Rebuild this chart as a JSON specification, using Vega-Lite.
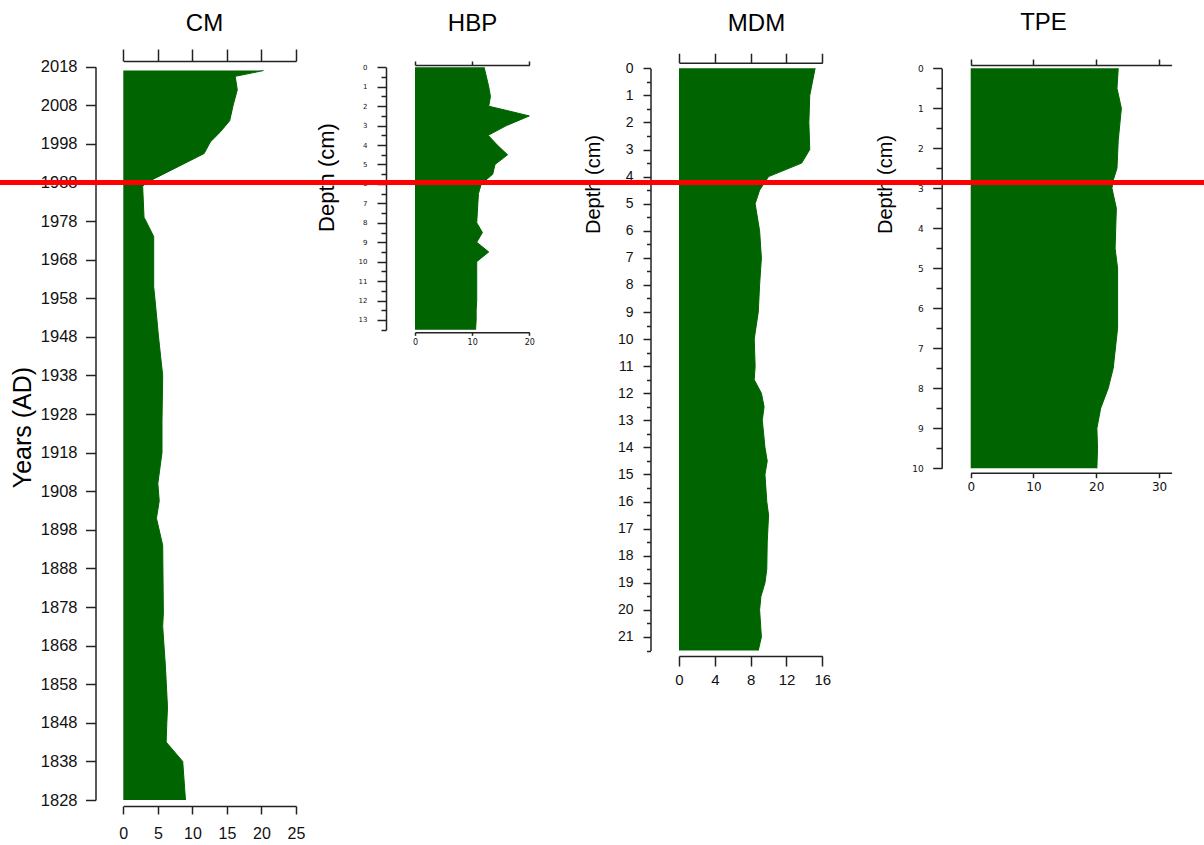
{
  "$schema": "https://vega.github.io/schema/vega-lite/v6.json",
  "width": 1204,
  "height": 845,
  "autosize": {"type": "none"},
  "padding": 0,
  "background": "white",
  "config": {
    "view": {"stroke": null},
    "axis": {
      "grid": false,
      "domainColor": "#222222",
      "domainWidth": 1.5,
      "tickColor": "#222222",
      "tickWidth": 1.5,
      "labelColor": "#111111",
      "labelFont": "Liberation Sans",
      "labelFlush": false,
      "labelOverlap": false,
      "labelBound": false,
      "titleColor": "#000000",
      "titleFont": "Liberation Sans",
      "titleFontWeight": "normal"
    }
  },
  "datasets": {
    "cm": [
      {"year": 2017, "value": 20.3},
      {"year": 2015.5, "value": 16.2},
      {"year": 2012, "value": 16.5},
      {"year": 2008, "value": 15.9},
      {"year": 2004, "value": 15.4},
      {"year": 2001, "value": 14.0},
      {"year": 1998.5, "value": 12.6},
      {"year": 1995.5, "value": 11.7},
      {"year": 1988, "value": 3.4},
      {"year": 1987, "value": 2.8},
      {"year": 1979, "value": 3.0},
      {"year": 1976.5, "value": 3.7},
      {"year": 1974, "value": 4.4},
      {"year": 1961, "value": 4.4},
      {"year": 1957.5, "value": 4.6},
      {"year": 1948, "value": 5.1},
      {"year": 1938, "value": 5.7},
      {"year": 1926, "value": 5.6},
      {"year": 1918, "value": 5.6},
      {"year": 1910, "value": 5.0},
      {"year": 1905.5, "value": 5.2},
      {"year": 1901, "value": 4.8},
      {"year": 1894, "value": 5.7},
      {"year": 1876.5, "value": 5.8},
      {"year": 1873, "value": 5.7},
      {"year": 1862.5, "value": 6.1},
      {"year": 1852, "value": 6.4},
      {"year": 1848, "value": 6.3},
      {"year": 1843, "value": 6.2},
      {"year": 1838, "value": 8.6},
      {"year": 1828, "value": 9.0}
    ],
    "hbp": [
      {"depth": 0, "value": 12.1},
      {"depth": 0.5, "value": 12.5},
      {"depth": 1.0, "value": 12.9},
      {"depth": 1.5, "value": 13.2},
      {"depth": 2.0, "value": 12.9},
      {"depth": 2.5, "value": 20.0},
      {"depth": 3.0, "value": 16.0},
      {"depth": 3.5, "value": 12.8},
      {"depth": 4.0, "value": 14.4},
      {"depth": 4.5, "value": 16.2},
      {"depth": 5.0, "value": 14.0},
      {"depth": 5.5, "value": 13.6},
      {"depth": 6.0, "value": 11.6},
      {"depth": 6.5, "value": 11.1},
      {"depth": 7.0, "value": 11.0},
      {"depth": 7.5, "value": 10.9},
      {"depth": 8.0, "value": 10.8},
      {"depth": 8.5, "value": 11.8},
      {"depth": 9.0, "value": 10.8},
      {"depth": 9.5, "value": 12.9},
      {"depth": 10.0, "value": 10.8},
      {"depth": 10.5, "value": 10.8},
      {"depth": 11.0, "value": 10.8},
      {"depth": 11.5, "value": 10.8},
      {"depth": 12.0, "value": 10.8},
      {"depth": 12.5, "value": 10.7},
      {"depth": 13.0, "value": 10.7},
      {"depth": 13.5, "value": 10.6}
    ],
    "mdm": [
      {"depth": 0, "value": 15.2},
      {"depth": 1.0, "value": 14.6},
      {"depth": 2.0, "value": 14.5},
      {"depth": 3.0, "value": 14.6},
      {"depth": 3.5, "value": 13.7},
      {"depth": 4.0, "value": 10.0},
      {"depth": 4.5, "value": 9.0},
      {"depth": 5.0, "value": 8.5},
      {"depth": 6.0, "value": 9.0},
      {"depth": 7.0, "value": 9.2},
      {"depth": 8.0, "value": 9.0},
      {"depth": 9.0, "value": 8.85},
      {"depth": 10.0, "value": 8.4},
      {"depth": 11.0, "value": 8.5},
      {"depth": 11.5, "value": 8.4},
      {"depth": 12.0, "value": 9.2},
      {"depth": 12.5, "value": 9.5},
      {"depth": 13.0, "value": 9.3},
      {"depth": 14.0, "value": 9.6},
      {"depth": 14.5, "value": 9.85},
      {"depth": 15.0, "value": 9.6},
      {"depth": 16.0, "value": 9.8},
      {"depth": 16.5, "value": 10.0},
      {"depth": 17.5, "value": 9.85},
      {"depth": 18.5, "value": 9.8},
      {"depth": 19.0, "value": 9.6},
      {"depth": 19.5, "value": 9.15},
      {"depth": 20.0, "value": 9.0},
      {"depth": 21.0, "value": 9.2},
      {"depth": 21.5, "value": 8.85}
    ],
    "tpe": [
      {"depth": 0, "value": 23.5},
      {"depth": 0.5, "value": 23.3},
      {"depth": 1.0, "value": 24.0},
      {"depth": 1.8, "value": 23.5},
      {"depth": 2.5, "value": 23.3},
      {"depth": 2.8, "value": 22.7},
      {"depth": 3.0, "value": 22.5},
      {"depth": 3.5, "value": 23.2},
      {"depth": 4.5, "value": 23.0},
      {"depth": 5.0, "value": 23.4},
      {"depth": 6.5, "value": 23.4},
      {"depth": 7.5, "value": 22.7},
      {"depth": 8.0, "value": 21.9},
      {"depth": 8.5, "value": 20.7},
      {"depth": 9.0, "value": 20.1},
      {"depth": 9.5, "value": 20.2},
      {"depth": 10.0, "value": 20.1}
    ],
    "marker": [
      {"year": 1988}
    ]
  },
  "resolve": {
    "scale": {"x": "independent", "y": "independent"},
    "axis": {"x": "independent", "y": "independent"}
  },
  "layer": [
    {
      "data": {"name": "cm"},
      "resolve": {"axis": {"x": "independent", "y": "independent"}},
      "layer": [
        {
          "mark": {"type": "area", "orient": "horizontal", "color": "#006400"},
          "encoding": {
            "x": {
              "field": "value", "type": "quantitative",
              "scale": {"domain": [0, 25], "range": [123.3, 296], "nice": false, "zero": true},
              "axis": {"orient": "bottom", "offset": -39, "values": [0, 5, 10, 15, 20, 25],
                       "tickSize": 8, "labelPadding": 19, "labelBaseline": "middle",
                       "labelFontSize": 16, "title": null}
            },
            "y": {
              "field": "year", "type": "quantitative",
              "scale": {"domain": [1828, 2018], "range": [800, 66.7], "nice": false, "zero": false},
              "axis": {"orient": "left", "offset": -95.5,
                       "values": [1828, 1838, 1848, 1858, 1868, 1878, 1888, 1898, 1908, 1918, 1928, 1938, 1948, 1958, 1968, 1978, 1988, 1998, 2008, 2018],
                       "format": "d", "tickSize": 10, "labelPadding": 8.5, "labelFontSize": 16.5,
                       "title": "Years (AD)", "titleX": -73, "titleY": 427, "titleAngle": -90,
                       "titleAlign": "center", "titleBaseline": "middle", "titleFontSize": 25}
            }
          }
        },
        {
          "mark": {"type": "line", "color": "#006400", "strokeWidth": 1},
          "encoding": {
            "x": {
              "field": "value", "type": "quantitative",
              "axis": {"orient": "top", "offset": -61, "values": [0, 5, 10, 15, 20, 25],
                       "labels": false, "tickSize": 12,
                       "title": "CM", "titleX": 204, "titleY": -37.5, "titleAngle": 0,
                       "titleAlign": "center", "titleBaseline": "middle", "titleFontSize": 24}
            },
            "y": {"field": "year", "type": "quantitative", "axis": null},
            "order": {"field": "year", "type": "quantitative"}
          }
        }
      ]
    },
    {
      "data": {"name": "hbp"},
      "resolve": {"axis": {"x": "independent", "y": "independent"}},
      "layer": [
        {
          "mark": {"type": "area", "orient": "horizontal", "color": "#006400"},
          "encoding": {
            "x": {
              "field": "value", "type": "quantitative",
              "scale": {"domain": [0, 20], "range": [415, 529.3], "nice": false, "zero": true},
              "axis": {"orient": "bottom", "offset": -512.7, "values": [0, 10, 20],
                       "tickSize": 3, "labelPadding": 7.4, "labelBaseline": "middle",
                       "labelFont": "DejaVu Sans", "labelFontSize": 8, "title": null}
            },
            "y": {
              "field": "depth", "type": "quantitative",
              "scale": {"domain": [0, 13.5], "range": [67.3, 329.7], "nice": false, "zero": true},
              "axis": {"orient": "left", "offset": -386,
                       "values": [0, 1, 2, 3, 4, 5, 6, 7, 8, 9, 10, 11, 12, 13],
                       "format": "d", "tickSize": 9, "labelPadding": 10,
                       "labelFont": "DejaVu Sans", "labelFontSize": 7,
                       "title": "Depth (cm)", "titleX": -60, "titleY": 177, "titleAngle": -90,
                       "titleAlign": "center", "titleBaseline": "middle", "titleFontSize": 22}
            }
          }
        },
        {
          "mark": {"type": "line", "color": "#006400", "strokeWidth": 1},
          "encoding": {
            "x": {
              "field": "value", "type": "quantitative",
              "axis": {"orient": "top", "offset": -65, "values": [0, 10, 20],
                       "labels": false, "tickSize": 4,
                       "title": "HBP", "titleX": 472, "titleY": -42, "titleAngle": 0,
                       "titleAlign": "center", "titleBaseline": "middle", "titleFontSize": 24}
            },
            "y": {
              "field": "depth", "type": "quantitative",
              "axis": {"orient": "left", "offset": -386,
                       "values": [0.5, 1.5, 2.5, 3.5, 4.5, 5.5, 6.5, 7.5, 8.5, 9.5, 10.5, 11.5, 12.5, 13.5],
                       "labels": false, "domain": false, "tickSize": 5, "title": null}
            },
            "order": {"field": "depth", "type": "quantitative"}
          }
        }
      ]
    },
    {
      "data": {"name": "mdm"},
      "resolve": {"axis": {"x": "independent", "y": "independent"}},
      "layer": [
        {
          "mark": {"type": "area", "orient": "horizontal", "color": "#006400"},
          "encoding": {
            "x": {
              "field": "value", "type": "quantitative",
              "scale": {"domain": [0, 16], "range": [679, 822.3], "nice": false, "zero": true},
              "axis": {"orient": "bottom", "offset": -189, "values": [0, 4, 8, 12, 16],
                       "tickSize": 10, "labelPadding": 13, "labelBaseline": "middle",
                       "labelFontSize": 15, "title": null}
            },
            "y": {
              "field": "depth", "type": "quantitative",
              "scale": {"domain": [0, 21.5], "range": [68.3, 650.5], "nice": false, "zero": true},
              "axis": {"orient": "left", "offset": -650.5,
                       "values": [0, 1, 2, 3, 4, 5, 6, 7, 8, 9, 10, 11, 12, 13, 14, 15, 16, 17, 18, 19, 20, 21],
                       "format": "d", "tickSize": 7.5, "labelPadding": 10, "labelFontSize": 14,
                       "title": "Depth (cm)", "titleX": -57.5, "titleY": 184, "titleAngle": -90,
                       "titleAlign": "center", "titleBaseline": "middle", "titleFontSize": 20}
            }
          }
        },
        {
          "mark": {"type": "line", "color": "#006400", "strokeWidth": 1},
          "encoding": {
            "x": {
              "field": "value", "type": "quantitative",
              "axis": {"orient": "top", "offset": -62.7, "values": [0, 4, 8, 12, 16],
                       "labels": false, "tickSize": 9.5,
                       "title": "MDM", "titleX": 756, "titleY": -39.4, "titleAngle": 0,
                       "titleAlign": "center", "titleBaseline": "middle", "titleFontSize": 24}
            },
            "y": {
              "field": "depth", "type": "quantitative",
              "axis": {"orient": "left", "offset": -650.5,
                       "values": [0.5, 1.5, 2.5, 3.5, 4.5, 5.5, 6.5, 7.5, 8.5, 9.5, 10.5, 11.5, 12.5, 13.5, 14.5, 15.5, 16.5, 17.5, 18.5, 19.5, 20.5, 21.5],
                       "labels": false, "domain": false, "tickSize": 4, "title": null}
            },
            "order": {"field": "depth", "type": "quantitative"}
          }
        }
      ]
    },
    {
      "data": {"name": "tpe"},
      "resolve": {"axis": {"x": "independent", "y": "independent"}},
      "layer": [
        {
          "mark": {"type": "area", "orient": "horizontal", "color": "#006400"},
          "encoding": {
            "x": {
              "field": "value", "type": "quantitative",
              "scale": {"domain": [0, 32], "range": [970.7, 1171.6], "nice": false, "zero": true},
              "axis": {"orient": "bottom", "offset": -372.3, "values": [0, 10, 20, 30],
                       "tickSize": 5, "labelPadding": 9, "labelBaseline": "middle",
                       "labelFont": "DejaVu Sans", "labelFontSize": 12, "title": null}
            },
            "y": {
              "field": "depth", "type": "quantitative",
              "scale": {"domain": [0, 10], "range": [68.3, 468.3], "nice": false, "zero": true},
              "axis": {"orient": "left", "offset": -941.7,
                       "values": [0, 1, 2, 3, 4, 5, 6, 7, 8, 9, 10],
                       "format": "d", "tickSize": 9, "labelPadding": 9.4,
                       "labelFont": "DejaVu Sans", "labelFontSize": 9,
                       "title": "Depth (cm)", "titleX": -56.7, "titleY": 184, "titleAngle": -90,
                       "titleAlign": "center", "titleBaseline": "middle", "titleFontSize": 20}
            }
          }
        },
        {
          "mark": {"type": "line", "color": "#006400", "strokeWidth": 1},
          "encoding": {
            "x": {
              "field": "value", "type": "quantitative",
              "axis": {"orient": "top", "offset": -65, "values": [0, 10, 20, 30],
                       "labels": false, "tickSize": 6,
                       "title": "TPE", "titleX": 1043, "titleY": -42.5, "titleAngle": 0,
                       "titleAlign": "center", "titleBaseline": "middle", "titleFontSize": 24}
            },
            "y": {
              "field": "depth", "type": "quantitative",
              "axis": {"orient": "left", "offset": -941.7,
                       "values": [0.5, 1.5, 2.5, 3.5, 4.5, 5.5, 6.5, 7.5, 8.5, 9.5],
                       "labels": false, "domain": false, "tickSize": 5.7, "title": null}
            },
            "order": {"field": "depth", "type": "quantitative"}
          }
        }
      ]
    },
    {
      "data": {"name": "marker"},
      "mark": {"type": "rule", "color": "#ff0000", "strokeWidth": 5},
      "encoding": {
        "y": {
          "field": "year", "type": "quantitative",
          "scale": {"domain": [1828, 2018], "range": [800, 66.7], "nice": false, "zero": false},
          "axis": null
        }
      }
    }
  ]
}
